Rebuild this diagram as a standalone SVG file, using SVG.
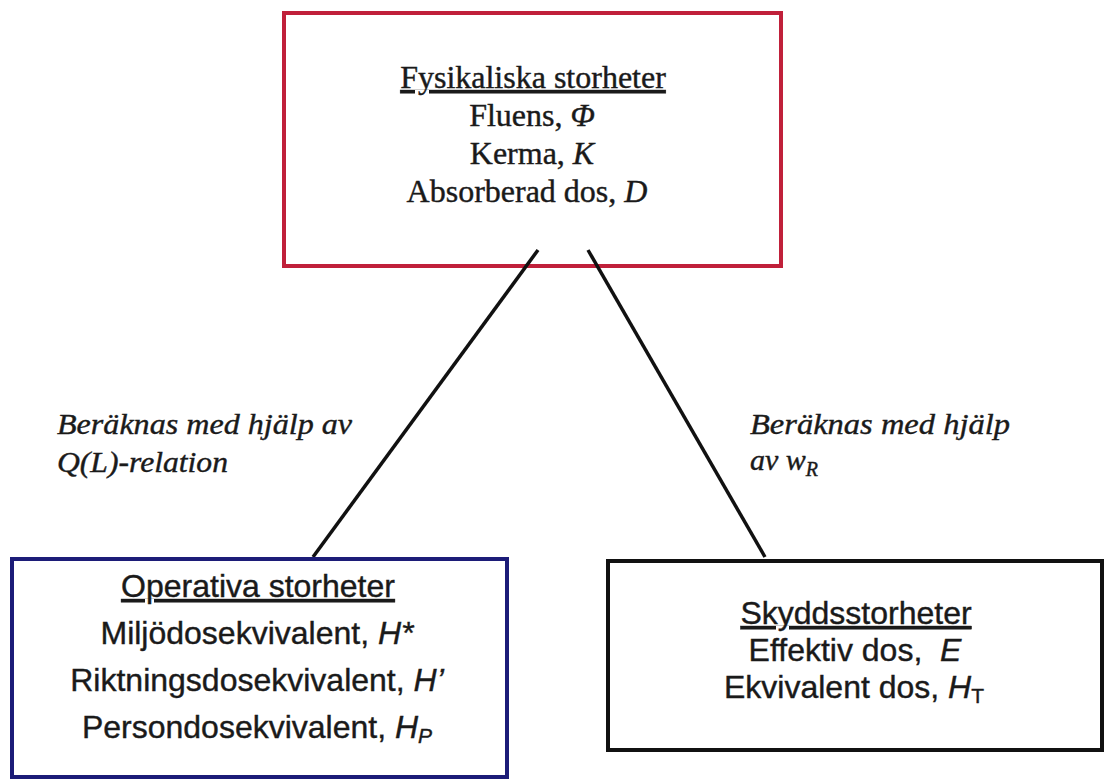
<svg xmlns="http://www.w3.org/2000/svg" width="1104" height="779" viewBox="0 0 1104 779">
<style>
.box{fill:#ffffff;stroke-width:4}
.serif{font-family:"Liberation Serif","Times New Roman",serif;font-size:32px;fill:#1a1a1a;stroke:#1a1a1a;stroke-width:0.4}
.sans{font-family:"Liberation Sans",Arial,sans-serif;font-size:32px;fill:#1a1a1a;stroke:#1a1a1a;stroke-width:0.4}
.lbl{font-family:"Liberation Serif","Times New Roman",serif;font-size:30px;font-style:italic;fill:#1a1a1a;stroke:#1a1a1a;stroke-width:0.4}
.u{text-decoration:underline}
.it{font-style:italic}
.conn{stroke:#111;stroke-width:3.5;fill:none}
</style>
<rect width="1104" height="779" fill="#ffffff"/>
<g id="fysikaliska">
<rect class="box" x="284" y="13" width="497" height="253" stroke="#c0203a"/>
<text class="serif" text-anchor="middle"><tspan class="u" x="533" y="88">Fysikaliska storheter</tspan><tspan x="532" y="126">Fluens, <tspan class="it">Φ</tspan></tspan><tspan x="532" y="164">Kerma, <tspan class="it">K</tspan></tspan><tspan x="527" y="202">Absorberad dos, <tspan class="it">D</tspan></tspan></text>
</g>
<g id="connectors">
<line class="conn" x1="538" y1="250" x2="313" y2="557"/>
<line class="conn" x1="588" y1="250" x2="765" y2="557"/>
<text class="lbl" x="57" y="434" textLength="295" lengthAdjust="spacingAndGlyphs">Beräknas med hjälp av</text>
<text class="lbl" x="57" y="472" textLength="171" lengthAdjust="spacingAndGlyphs">Q(L)-relation</text>
<text class="lbl" x="750" y="434" textLength="260" lengthAdjust="spacingAndGlyphs">Beräknas med hjälp</text>
<text class="lbl" x="750" y="470">av w<tspan font-size="20" dy="6">R</tspan></text>
</g>
<g id="operativa">
<rect class="box" x="12" y="559" width="495" height="218" stroke="#1c1c78"/>
<text class="sans" text-anchor="middle"><tspan class="u" x="258" y="597">Operativa storheter</tspan><tspan x="257" y="644">Miljödosekvivalent, <tspan class="it">H*</tspan></tspan><tspan x="257" y="691">Riktningsdosekvivalent, <tspan class="it">H’</tspan></tspan><tspan x="257" y="738">Persondosekvivalent, <tspan class="it">H</tspan><tspan class="it" font-size="21" dy="5">P</tspan></tspan></text>
</g>
<g id="skydds">
<rect class="box" x="608" y="561" width="494" height="189" stroke="#111111"/>
<text class="sans" text-anchor="middle"><tspan class="u" x="856" y="624">Skyddsstorheter</tspan><tspan x="855" y="661" xml:space="preserve">Effektiv dos,  <tspan class="it">E</tspan></tspan><tspan x="854" y="698">Ekvivalent dos, <tspan class="it">H</tspan><tspan font-size="21" dy="5">T</tspan></tspan></text>
</g>
</svg>
